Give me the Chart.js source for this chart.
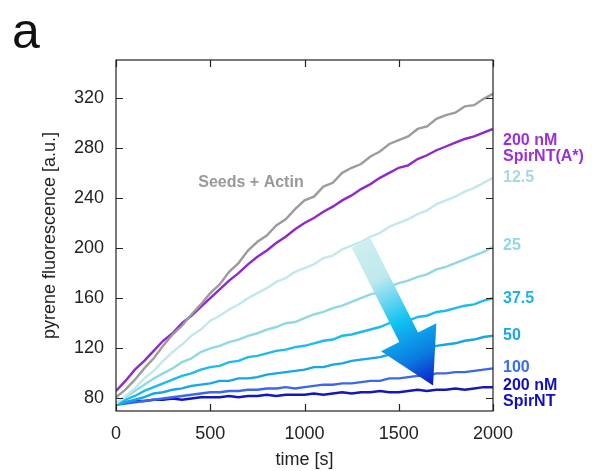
<!DOCTYPE html>
<html>
<head>
<meta charset="utf-8">
<script src="https://cdn.jsdelivr.net/npm/chart.js@4/dist/chart.umd.min.js"></script>
<style>
  html, body { margin: 0; padding: 0; background: #fff; }
  #wrap { width: 592px; height: 471px; }
</style>
</head>
<body>
<div id="wrap"><canvas id="chart" width="592" height="471"></canvas></div>
<script>
// time axis (s), one reading every 50 s
const times = [0, 50, 100, 150, 200, 250, 300, 350, 400, 450, 500, 550, 600, 650, 700, 750, 800, 850, 900, 950,
    1000, 1050, 1100, 1150, 1200, 1250, 1300, 1350, 1400, 1450, 1500, 1550, 1600, 1650, 1700, 1750, 1800, 1850, 1900, 1950, 2000];

// pyrene fluorescence [a.u.]
const seedsActin = [81, 87, 95, 104, 112, 122, 131, 138, 147, 155, 164, 171, 181, 188, 198, 205, 210, 218, 223, 231,
    238, 241, 249, 252, 260, 264, 267, 273, 277, 283, 286, 289, 295, 297, 303, 306, 308, 313, 314, 319, 323];
const spirA200 = [86, 94, 103, 110, 118, 126, 132, 140, 146, 153, 160, 167, 174, 180, 187, 193, 198, 204, 209, 215,
    220, 224, 229, 233, 238, 242, 247, 251, 256, 260, 264, 266, 271, 274, 278, 281, 284, 287, 289, 292, 295];
const spir12 = [76, 82, 88, 96, 102, 110, 117, 123, 130, 135, 142, 146, 151, 155, 160, 164, 168, 173, 176, 181,
    184, 187, 192, 194, 199, 202, 205, 209, 212, 217, 220, 223, 227, 230, 235, 238, 241, 245, 248, 252, 256];
const spir25 = [76, 81, 86, 91, 96, 100, 104, 109, 112, 117, 120, 122, 125, 127, 130, 132, 135, 137, 140, 141,
    144, 147, 149, 152, 154, 157, 160, 163, 165, 169, 172, 174, 177, 179, 183, 185, 188, 191, 194, 197, 201];
const spir37 = [75, 79, 82, 86, 89, 92, 95, 98, 100, 103, 105, 106, 109, 110, 113, 114, 116, 118, 119, 121,
    122, 124, 126, 127, 130, 131, 133, 135, 137, 140, 141, 142, 145, 146, 149, 150, 152, 154, 155, 158, 160];
const spir50 = [75, 77, 79, 81, 84, 85, 87, 88, 90, 91, 92, 94, 94, 96, 96, 97, 99, 100, 101, 102,
    103, 105, 105, 107, 108, 110, 111, 112, 113, 115, 116, 117, 119, 120, 122, 123, 124, 126, 127, 129, 130];
const spir100 = [75, 76, 77, 78, 79, 80, 81, 82, 83, 84, 85, 85, 86, 86, 87, 87, 88, 88, 89, 88,
    89, 90, 91, 91, 92, 92, 93, 94, 94, 96, 96, 97, 98, 98, 100, 100, 101, 101, 102, 103, 104];
const spir200 = [77, 77, 78, 78, 79, 79, 80, 79, 80, 81, 81, 81, 82, 81, 82, 82, 83, 82, 83, 83,
    83, 84, 83, 84, 85, 84, 85, 85, 86, 85, 85, 86, 87, 86, 87, 87, 88, 87, 88, 89, 89];

const xTicks = [0, 500, 1000, 1500, 2000];
const yTicks = [80, 120, 160, 200, 240, 280, 320];

const seriesList = [
    { name: 'Seeds + Actin', values: seedsActin, color: '#9c9c9c' },
    { name: '200 nM SpirNT(A*)', values: spirA200, color: '#9028cc' },
    { name: '12.5', values: spir12, color: '#c2e8ea' },
    { name: '25', values: spir25, color: '#90d9e3' },
    { name: '37.5', values: spir37, color: '#1cbbee' },
    { name: '50', values: spir50, color: '#14a6e6' },
    { name: '100', values: spir100, color: '#3a66f0' },
    { name: '200 nM SpirNT', values: spir200, color: '#1418b8' }
];

// text beside the right axis: lines, value it sits at, colour
const sideLabels = [
    { lines: ['200 nM', 'SpirNT(A*)'], at: 286, color: '#9b30d8' },
    { lines: ['12.5'], at: 256, color: '#a9d9dd' },
    { lines: ['25'], at: 201.6, color: '#8fd8e6' },
    { lines: ['37.5'], at: 160, color: '#1ab2ea' },
    { lines: ['50'], at: 130.4, color: '#18a6e6' },
    { lines: ['100'], at: 104.8, color: '#3270f0' },
    { lines: ['200 nM', 'SpirNT'], at: 90.4, color: '#1010c0' }
];

const FONT = '"Liberation Sans", Arial, sans-serif';

const overlay = {
    id: 'overlay',
    afterDatasetsDraw(chart) {
        const ctx = chart.ctx;
        const xs = chart.scales.x, ys = chart.scales.y;
        const area = chart.chartArea;

        // gradient arrow, tail and tip in data units
        const T = { x: xs.getPixelForValue(1300), y: ys.getPixelForValue(204) };
        const P = { x: xs.getPixelForValue(1682), y: ys.getPixelForValue(90.4) };
        const dx = P.x - T.x, dy = P.y - T.y;
        const len = Math.hypot(dx, dy);
        const u = { x: dx / len, y: dy / len };
        const n = { x: -u.y, y: u.x };
        const shaftW = 21, headW = 62, headL = 54;
        const B = { x: P.x - u.x * headL, y: P.y - u.y * headL };
        const grad = ctx.createLinearGradient(T.x, T.y, P.x, P.y);
        grad.addColorStop(0, '#cdeeee');
        grad.addColorStop(0.25, '#bfe9ee');
        grad.addColorStop(0.55, '#10c2f2');
        grad.addColorStop(0.8, '#0a7ae0');
        grad.addColorStop(1, '#0a18c8');
        ctx.save();
        ctx.beginPath();
        ctx.moveTo(T.x + n.x * shaftW / 2, T.y + n.y * shaftW / 2);
        ctx.lineTo(B.x + n.x * shaftW / 2, B.y + n.y * shaftW / 2);
        ctx.lineTo(B.x + n.x * headW / 2, B.y + n.y * headW / 2);
        ctx.lineTo(P.x, P.y);
        ctx.lineTo(B.x - n.x * headW / 2, B.y - n.y * headW / 2);
        ctx.lineTo(B.x - n.x * shaftW / 2, B.y - n.y * shaftW / 2);
        ctx.lineTo(T.x - n.x * shaftW / 2, T.y - n.y * shaftW / 2);
        ctx.closePath();
        ctx.fillStyle = grad;
        ctx.fill();

        // frame with inward ticks on every side
        ctx.strokeStyle = '#222';
        ctx.lineWidth = 1.2;
        ctx.strokeRect(area.left, area.top, area.right - area.left, area.bottom - area.top);
        ctx.beginPath();
        xTicks.forEach(v => {
            const px = Math.round(xs.getPixelForValue(v)) + 0.5;
            ctx.moveTo(px, area.bottom); ctx.lineTo(px, area.bottom - 7);
            ctx.moveTo(px, area.top); ctx.lineTo(px, area.top + 7);
        });
        yTicks.forEach(v => {
            const py = Math.round(ys.getPixelForValue(v)) + 0.5;
            ctx.moveTo(area.left, py); ctx.lineTo(area.left + 7, py);
            ctx.moveTo(area.right, py); ctx.lineTo(area.right - 7, py);
        });
        ctx.stroke();

        // labels
        ctx.font = 'bold 16px ' + FONT;
        ctx.textBaseline = 'middle';
        ctx.textAlign = 'left';
        sideLabels.forEach(l => {
            const y0 = ys.getPixelForValue(l.at);
            ctx.fillStyle = l.color;
            l.lines.forEach((s, i) => ctx.fillText(s, area.right + 10, y0 + i * 16));
        });
        ctx.textAlign = 'center';
        ctx.fillStyle = '#999';
        ctx.fillText('Seeds + Actin', xs.getPixelForValue(716), ys.getPixelForValue(252));

        ctx.textAlign = 'left';
        ctx.textBaseline = 'alphabetic';
        ctx.fillStyle = '#111';
        ctx.font = '50px ' + FONT;
        ctx.fillText('a', 12, 48);
        ctx.restore();
    }
};

new Chart(document.getElementById('chart'), {
    type: 'line',
    data: {
        datasets: seriesList.map(s => ({
            label: s.name,
            data: times.map((t, i) => ({ x: t, y: s.values[i] })),
            borderColor: s.color,
            borderWidth: 2.4,
            pointRadius: 0,
            tension: 0,
            fill: false
        }))
    },
    options: {
        responsive: false,
        animation: false,
        layout: { padding: { top: 60, right: 99, left: 0, bottom: 0 } },
        plugins: { legend: { display: false }, tooltip: { enabled: false } },
        scales: {
            x: {
                type: 'linear',
                min: 0,
                max: 2000,
                afterBuildTicks: s => { s.ticks = xTicks.map(v => ({ value: v })); },
                afterFit: s => { s.height = 60; },
                grid: { display: false, drawTicks: false },
                border: { display: false },
                ticks: { color: '#222', padding: 12, callback: v => String(v), font: { family: FONT, size: 18 } },
                title: { display: true, text: 'time [s]', color: '#222', padding: { top: 0, bottom: 0 },
                    font: { family: FONT, size: 18 } }
            },
            y: {
                min: 70,
                max: 350,
                afterBuildTicks: s => { s.ticks = yTicks.map(v => ({ value: v })); },
                afterFit: s => { s.width = 116; },
                grid: { display: false, drawTicks: false },
                border: { display: false },
                ticks: { color: '#222', padding: 12, callback: v => String(v), font: { family: FONT, size: 18 } },
                title: { display: true, text: 'pyrene fluorescence [a.u.]', color: '#222', padding: { top: 39, bottom: 0 },
                    font: { family: FONT, size: 18 } }
            }
        }
    },
    plugins: [overlay]
});
</script>
</body>
</html>
